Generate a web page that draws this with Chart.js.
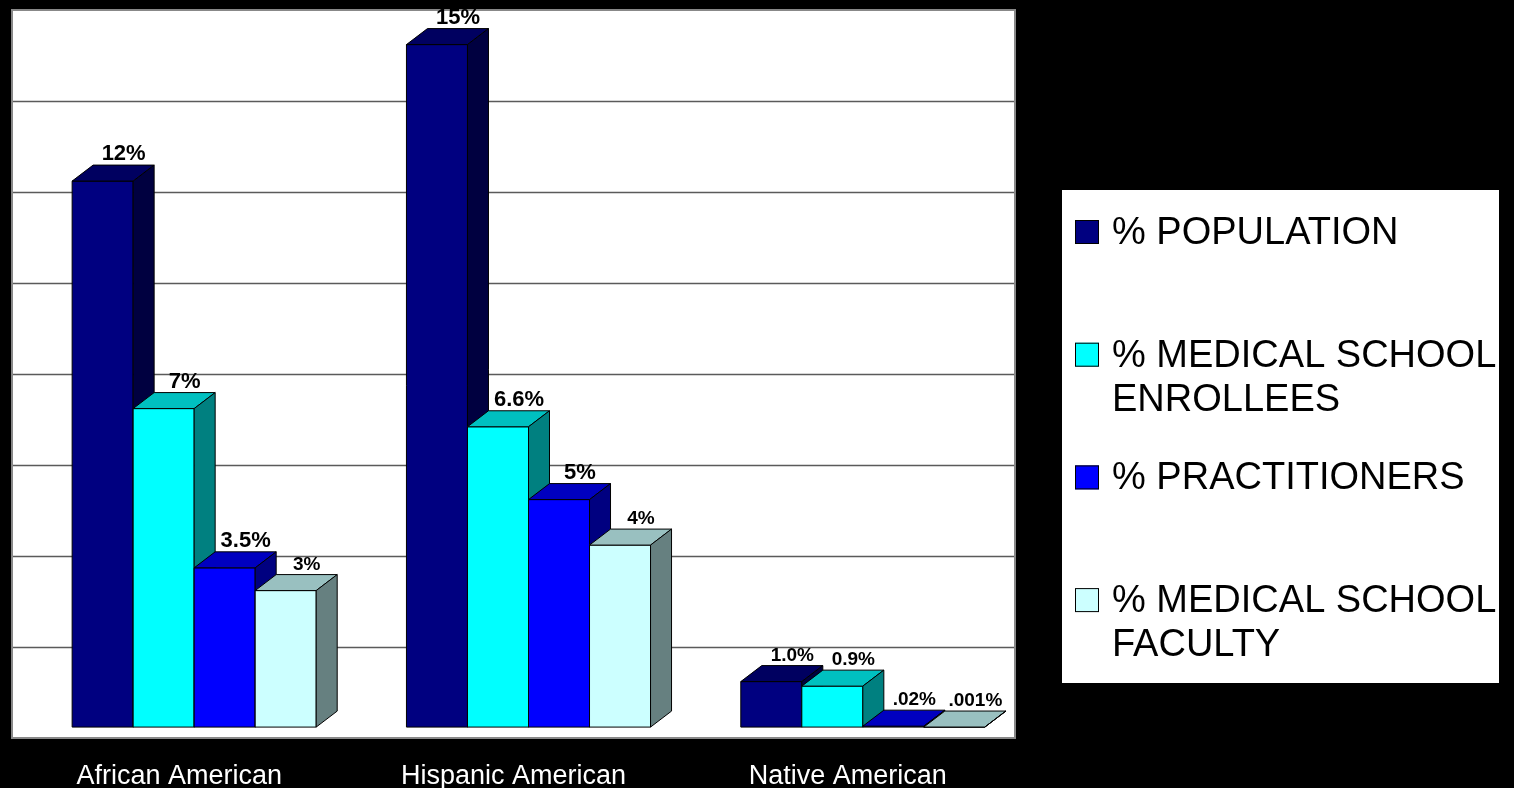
<!DOCTYPE html>
<html>
<head>
<meta charset="utf-8">
<script src="https://cdn.jsdelivr.net/npm/chart.js@4.4.0/dist/chart.umd.min.js"></script>
<style>
  html, body { margin: 0; padding: 0; background: #000; }
  #wrap { width: 1514px; height: 788px; }
</style>
</head>
<body>
<div id="wrap"><canvas id="chart" width="1514" height="788"></canvas></div>
<script>
var groups = ['African American', 'Hispanic American', 'Native American'];
var seriesNames = [
    ['% POPULATION'],
    ['% MEDICAL SCHOOL', 'ENROLLEES'],
    ['% PRACTITIONERS'],
    ['% MEDICAL SCHOOL', 'FACULTY']
];

var population = [12, 15, 1.0];
var enrollees = [7, 6.6, 0.9];
var practitioners = [3.5, 5, 0.02];
var faculty = [3, 4, 0.001];

var populationLabels = ['12%', '15%', '1.0%'];
var enrolleeLabels = ['7%', '6.6%', '0.9%'];
var practitionerLabels = ['3.5%', '5%', '.02%'];
var facultyLabels = ['3%', '4%', '.001%'];

// value axis: gridline every 2 points, floor sits a little under zero
var yMin = -0.24;
var yMax = 15.76;
var gridStep = 2;

// front / top / side shades for each series
var faces = [
    ['#000080', '#000060', '#000040'],
    ['#00FFFF', '#00C0C0', '#008080'],
    ['#0000FF', '#0000C0', '#000080'],
    ['#CCFFFF', '#99C0C0', '#668080']
];

var depthX = 21;
var depthY = 16;
var floorShift = 15;
var font = "'Liberation Sans', Arial, sans-serif";

function poly(ctx, pts, fill) {
    ctx.beginPath();
    ctx.moveTo(pts[0][0], pts[0][1]);
    for (var i = 1; i < pts.length; i++) ctx.lineTo(pts[i][0], pts[i][1]);
    ctx.closePath();
    ctx.fillStyle = fill;
    ctx.fill();
    ctx.stroke();
}

var plotWall = {
    id: 'plotWall',
    beforeDraw: function (chart) {
        var ctx = chart.ctx, a = chart.chartArea, ys = chart.scales.y;
        var l = a.left - floorShift, r = a.right - floorShift;
        ctx.save();
        ctx.fillStyle = '#fff';
        ctx.fillRect(l, a.top, r - l, a.bottom - a.top);
        ctx.strokeStyle = '#5a5a5a';
        ctx.lineWidth = 1.5;
        for (var v = yMin + gridStep; v < yMax - 0.01; v += gridStep) {
            var y = Math.round(ys.getPixelForValue(v)) + 0.5;
            ctx.beginPath();
            ctx.moveTo(l, y);
            ctx.lineTo(r, y);
            ctx.stroke();
        }
        ctx.strokeStyle = '#888';
        ctx.lineWidth = 2;
        ctx.strokeRect(l, a.top, r - l, a.bottom - a.top);
        ctx.restore();
    }
};

var bars3d = {
    id: 'bars3d',
    beforeDatasetsDraw: function (chart) {
        var ctx = chart.ctx;
        ctx.save();
        ctx.strokeStyle = '#000';
        ctx.lineWidth = 1;
        ctx.lineJoin = 'round';
        for (var i = 0; i < groups.length; i++) {
            for (var d = 0; d < chart.data.datasets.length; d++) {
                var p = chart.getDatasetMeta(d).data[i].getProps(['x', 'y', 'base', 'width'], true);
                var l = p.x - p.width / 2, r = p.x + p.width / 2;
                var c = faces[d];
                poly(ctx, [[l, p.y], [r, p.y], [r, p.base], [l, p.base]], c[0]);
                poly(ctx, [[l, p.y], [l + depthX, p.y - depthY], [r + depthX, p.y - depthY], [r, p.y]], c[1]);
                poly(ctx, [[r, p.y], [r + depthX, p.y - depthY], [r + depthX, p.base - depthY], [r, p.base]], c[2]);
            }
        }
        ctx.restore();
        return false;
    },
    afterDraw: function (chart) {
        var ctx = chart.ctx;
        ctx.save();
        ctx.fillStyle = '#000';
        ctx.textAlign = 'center';
        ctx.textBaseline = 'alphabetic';
        chart.data.datasets.forEach(function (ds, d) {
            chart.getDatasetMeta(d).data.forEach(function (bar, i) {
                var small = d === 3 || i === 2;
                ctx.font = 'bold ' + (small ? 19 : 22) + 'px ' + font;
                ctx.fillText(ds.valueLabels[i], bar.x + depthX, bar.y - depthY - 5);
            });
        });
        ctx.restore();
    }
};

var sideLegend = {
    id: 'sideLegend',
    afterDraw: function (chart) {
        var ctx = chart.ctx, o = chart.options.plugins.sideLegend;
        ctx.save();
        ctx.fillStyle = '#fff';
        ctx.fillRect(o.left, o.top, o.width, o.height);
        ctx.font = o.fontSize + 'px ' + font;
        ctx.textBaseline = 'middle';
        ctx.textAlign = 'left';
        ctx.lineWidth = 1;
        ctx.strokeStyle = '#000';
        chart.data.datasets.forEach(function (ds, d) {
            var top = o.top + o.firstItem + d * o.itemStep;
            ctx.fillStyle = ds.backgroundColor;
            ctx.fillRect(o.left + 13, top, o.box, o.box);
            ctx.strokeRect(o.left + 13.5, top + 0.5, o.box - 1, o.box - 1);
            ctx.fillStyle = '#000';
            seriesNames[d].forEach(function (line, k) {
                ctx.fillText(line, o.left + 50, top + o.box / 2 + 1.5 + k * o.lineGap);
            });
        });
        ctx.restore();
    }
};

function series(d, values, labels) {
    return {
        label: seriesNames[d].join(' '),
        data: values,
        valueLabels: labels,
        backgroundColor: faces[d][0],
        borderColor: '#000',
        borderWidth: 1
    };
}

var myChart = new Chart(document.getElementById('chart'), {
    type: 'bar',
    data: {
        labels: groups,
        datasets: [
            series(0, population, populationLabels),
            series(1, enrollees, enrolleeLabels),
            series(2, practitioners, practitionerLabels),
            series(3, faculty, facultyLabels)
        ]
    },
    options: {
        responsive: false,
        animation: false,
        events: [],
        categoryPercentage: 0.73,
        barPercentage: 1.0,
        layout: { padding: { top: 10, left: 27, right: 484, bottom: 0 } },
        scales: {
            x: {
                grid: { display: false },
                border: { display: false },
                ticks: {
                    color: '#fff',
                    font: { family: font, size: 27 },
                    labelOffset: -floorShift,
                    padding: 14,
                    maxRotation: 0,
                    autoSkip: false
                },
                afterFit: function (scale) { scale.height = 50; }
            },
            y: {
                display: false,
                min: yMin,
                max: yMax
            }
        },
        plugins: {
            legend: { display: false },
            tooltip: { enabled: false },
            sideLegend: {
                left: 1062, top: 190, width: 437, height: 493,
                firstItem: 30, itemStep: 122.7, box: 24, lineGap: 44, fontSize: 38
            }
        }
    },
    plugins: [plotWall, bars3d, sideLegend]
});
</script>
</body>
</html>
